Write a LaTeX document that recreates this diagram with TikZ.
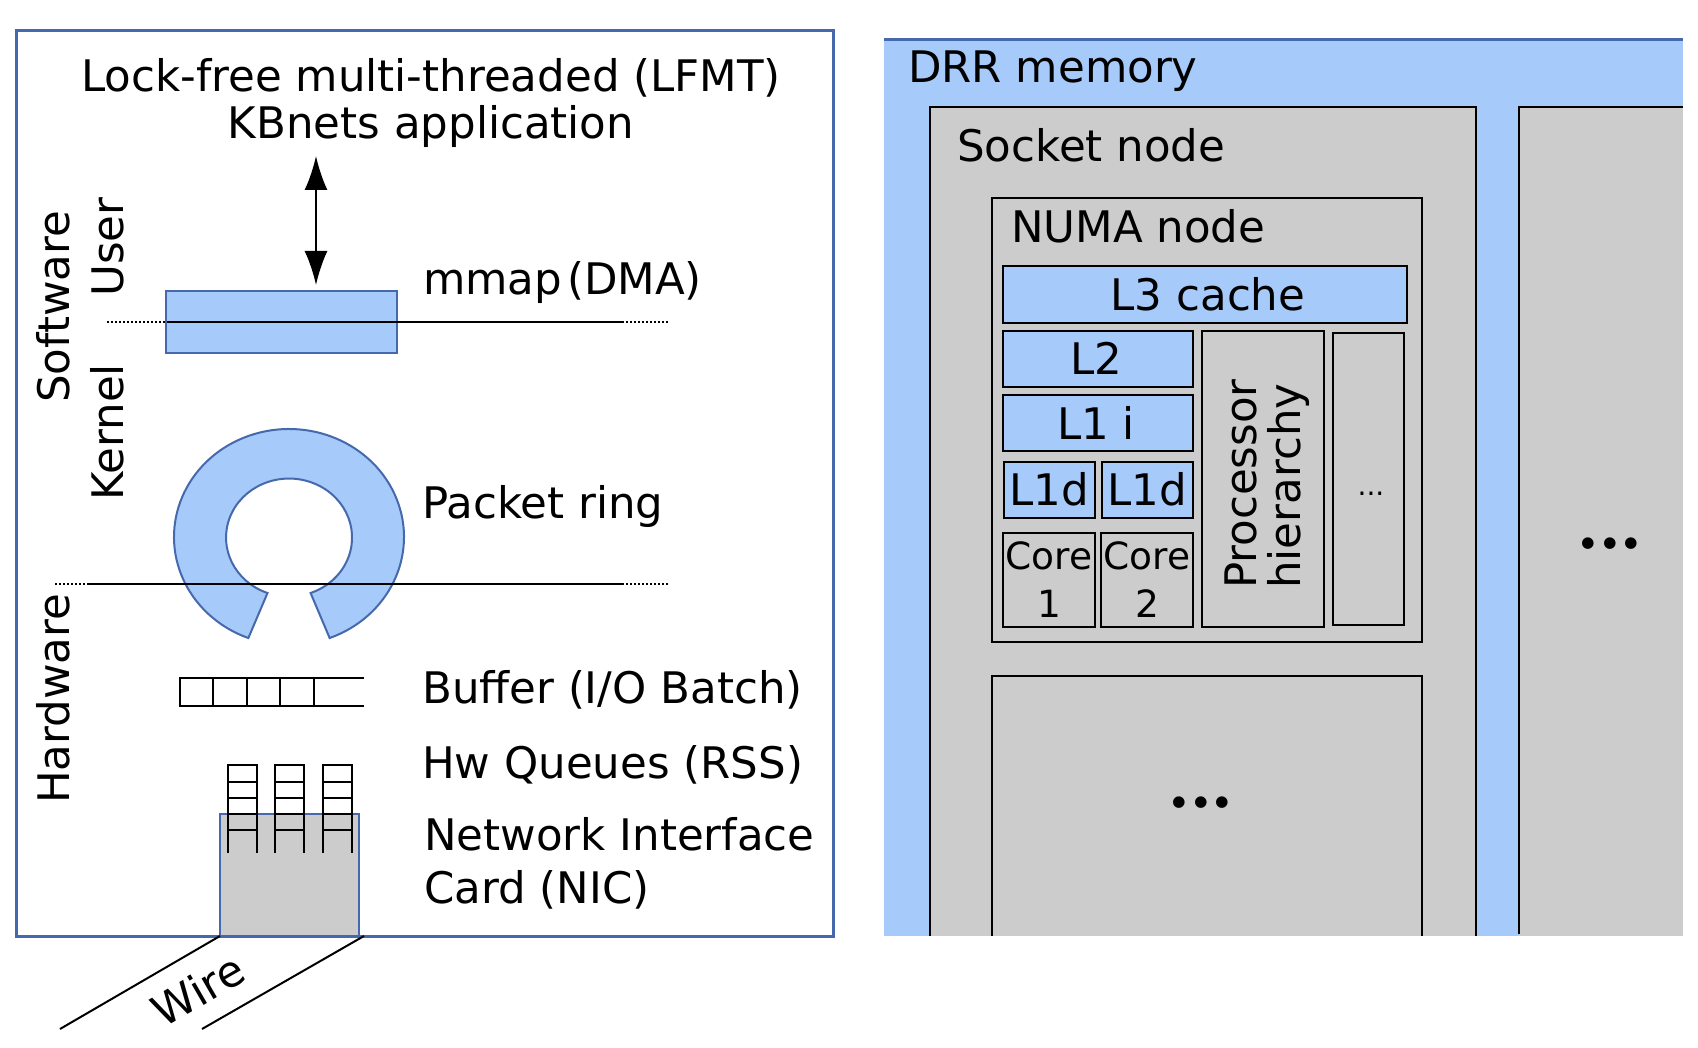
\documentclass[tikz,border=0pt]{standalone}
\usepackage{fontspec}
\setmainfont{DejaVu Sans}
\newfontfamily\dotfont{DejaVu Serif}
\usetikzlibrary{arrows.meta}
\definecolor{memblue}{HTML}{A6CAF9}
\definecolor{edgeblue}{HTML}{4668AD}
\definecolor{hwgray}{HTML}{CCCCCC}
\tikzset{lbl/.style={anchor=base west,inner sep=0pt,font=\fontsize{43.5}{47}\selectfont},
	 vlbl/.style={lbl,rotate=90},
	 bluebox/.style={draw=edgeblue,fill=memblue,line width=2pt},
	 cache/.style={draw=black,fill=memblue,line width=2pt,inner sep=0pt,outer sep=0pt,
		font=\fontsize{43.5}{47}\selectfont,text height=32pt,text depth=0pt},
	 corebox/.style={draw=black,fill=hwgray,line width=2pt,inner sep=0pt,outer sep=0pt,
		minimum width=92pt,minimum height=94pt,align=center,font=\fontsize{37.5}{48}\selectfont},
	 hier/.style={draw=black,fill=hwgray,line width=2pt},
	 bigdots/.style={inner sep=0pt,font=\fontsize{62}{62}\selectfont\dotfont\bfseries},
	 sep/.style={black,line width=2pt},
	 sepdot/.style={black,line width=2pt,dash pattern=on 2pt off 2pt},
	 twoway/.style={{Latex[length=34pt,width=23pt]}-{Latex[length=34pt,width=23pt]},line width=2pt}
	 }

\begin{document}
\begin{tikzpicture}[x=1pt,y=-1pt]% software stack and memory hierarchy
        \useasboundingbox (0,0) rectangle (1698,1048);
        % left panel
        \draw[edgeblue,line width=3pt] (16,31) rectangle (833.5,936);
        \node[lbl,anchor=center,align=center] (lfmt) at (431,103) {Lock-free multi-threaded (LFMT)\\KBnets application};
        \coordinate (apptop) at (316,156);
        \coordinate (mmaptop) at (316,285);
        \draw[twoway] (apptop) -- (mmaptop);
        \draw[bluebox] (166,291) rectangle (397,353);
        \node[lbl] (mmap) at (423,295) {mmap\kern5pt(DMA)};
        \draw[bluebox] (289,537) ++(-69.3:115pt and 108pt)
            arc[start angle=-69.3,end angle=249.3,x radius=115pt,y radius=108pt]
            -- (267.5,593)
            arc[start angle=250,end angle=-70,x radius=63pt,y radius=59pt] -- cycle;
        \node[lbl] (ring) at (422,518) {Packet ring};
        % user/kernel and software/hardware lines
        \draw[sep] (167,322) -- (623,322);
        \draw[sep] (89,584) -- (623,584);
        \foreach \y/\x in {322/107,584/55} {
            \draw[sepdot] (\x,\y) -- +(95,0);
            \draw[sepdot] (574,\y) -- (669,\y);
        }
        \node[vlbl] (sw) at (69,403) {Software};
        \node[vlbl] (user) at (123,297) {User};
        \node[vlbl] (kernel) at (123,501) {Kernel};
        \node[vlbl] (hw) at (69,804) {Hardware};
        % buffer
        \draw[sep] (364,678) -- (180,678) -- (180,706) -- (364,706);
        \foreach \x in {213,247,280,314} \draw[sep] (\x,678) -- (\x,706);
        \node[lbl] (buf) at (422,703) {Buffer (I/O Batch)};
        % nic and its queues
        \draw[bluebox,fill=hwgray] (220,814) rectangle (358.5,936);
        \foreach \x in {228,275,323} {
            \draw[sep] (\x,853) -- (\x,765) -- ++(28.5,0) -- ++(0,88);
            \foreach \y in {782,798,814,830} \draw[sep] (\x,\y) -- ++(28.5,0);
        }
        \node[lbl] (rss) at (422,778) {Hw Queues (RSS)};
        \node[lbl,align=left,font=\fontsize{43.5}{53}\selectfont,anchor=north west] (nic) at (424,817) {Network Interface\\Card (NIC)};
        \coordinate (wl) at (60,1029);
        \coordinate (wr) at (202,1029);
        \draw[sep] (220,936) -- (wl);
        \draw[sep] (364,936) -- (wr);
        \node[lbl,anchor=center,rotate=30] (wire) at (198,990) {Wire};
        % right panel
        \fill[memblue] (884,40) rectangle (1683,936);
        \draw[edgeblue,line width=3pt] (884,40) -- (1683,40);
        \node[lbl] (drr) at (908,83) {DRR memory};
        \foreach \a/\b in {930/1476,1519/1683} \fill[hwgray] (\a,107) rectangle (\b,936);
        \draw[sep] (930,936) -- (930,107) -- (1476,107) -- (1476,936);
        \draw[sep] (1683,107) -- (1519,107) -- (1519,934);
        \node[lbl] (socket) at (957,162) {Socket node};
        \node[bigdots] (more1) at (1610,544) {...};
        \draw[hier] (992,198) rectangle (1422,642);
        \node[lbl] (numa) at (1011,243) {NUMA node};
        \node[cache,minimum width=404pt,minimum height=57pt] (l3) at (1205,295) {\kern6pt L3 cache};
        \node[cache,minimum width=190pt,minimum height=56pt] (l2) at (1098,359) {L2\kern4pt};
        \node[cache,minimum width=190pt,minimum height=56pt] (l1i) at (1098,423) {L1 i\kern4pt};
        \node[cache,text height=30pt,minimum width=91pt,minimum height=56pt] (l1da) at (1049.5,490) {L1d};
        \node[cache,text height=30pt,minimum width=91pt,minimum height=56pt] (l1db) at (1147.5,490) {L1d};
        \node[corebox] (c1) at (1049,579.5) {Core\\1};
        \node[corebox] (c2) at (1147,579.5) {Core\\2};
        \draw[hier] (1202,331) rectangle (1324,627);
        \node[lbl,anchor=center,rotate=90,align=left,font=\fontsize{43.5}{44}\selectfont] (proc) at (1267,484) {Processor\\hierarchy};
        \draw[hier] (1332.5,333) rectangle (1404,625);
        \node[inner sep=0pt,font=\fontsize{28}{28}\selectfont] (more3) at (1371,494) {...};
        \fill[hwgray] (992,676) rectangle (1422,936);
        \draw[sep] (992,936) -- (992,676) -- (1422,676) -- (1422,936);
        \node[bigdots] (more2) at (1201,803) {...};
    \end{tikzpicture}
\end{document}
